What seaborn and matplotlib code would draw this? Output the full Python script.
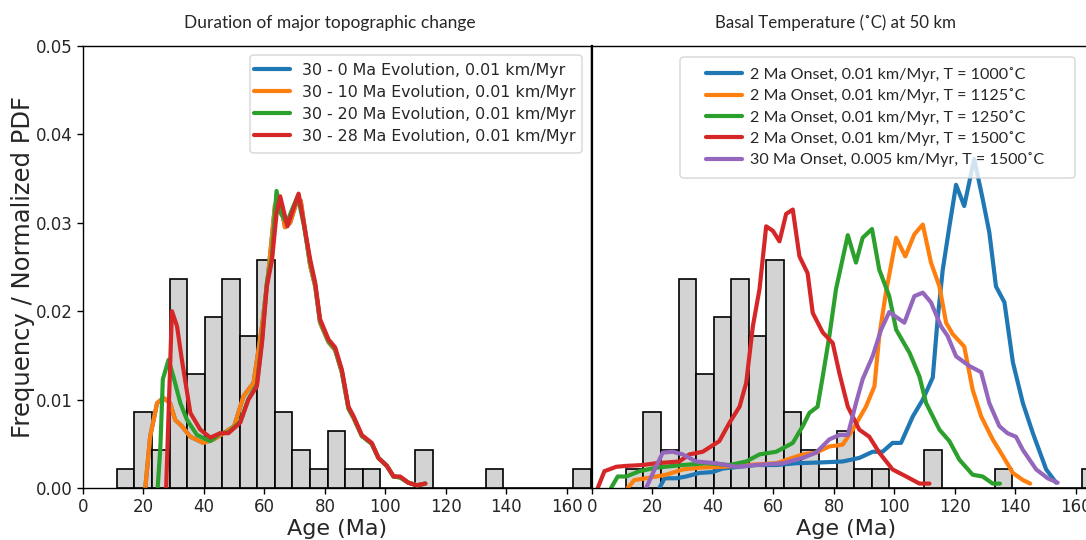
import matplotlib
matplotlib.use("Agg")
import matplotlib.pyplot as plt
from matplotlib.patches import FancyBboxPatch
import seaborn as sns
import numpy as np
import pandas as pd

sns.set_style("ticks")
plt.rcParams['font.family'] = ['DejaVu Sans']

# ---------------- data ----------------
hist_counts = [1, 4, 2, 11, 6, 9, 11, 8, 12, 4, 2, 1, 3, 1, 1, 0, 0, 2, 0, 0, 0, 1, 0, 0, 0, 0, 1]
hist_range = (11.2, 168.0)

left_labels = ["30 - 0 Ma Evolution, 0.01 km/Myr",
               "30 - 10 Ma Evolution, 0.01 km/Myr",
               "30 - 20 Ma Evolution, 0.01 km/Myr",
               "30 - 28 Ma Evolution, 0.01 km/Myr"]

l_orange_x = [20.6, 22.2, 24.5, 26.6, 28.8, 30.5, 32.7, 35.5, 39.8, 43.2, 46.5, 50.0, 53.1, 56.4, 59.2,
              61.4, 63.5, 65.0, 66.8, 68.5, 70.5, 72.0, 73.5, 75.1, 76.8, 78.4, 81.2, 83.4, 85.6, 87.8,
              89.5, 92.2, 95.5, 97.7, 100.5, 102.7, 104.9, 107.6, 110.4, 113.2]
l_orange_y = [0, .0058, .0096, .0102, .0096, .0077, .0070, .0058, .0051, .0055, .0062, .0070, .0104, .0119, .0183,
              .0247, .0320, .0328, .0295, .0300, .0322, .0325, .0290, .0252, .0228, .0187, .0165, .0156, .0131, .0090,
              .0079, .0059, .0050, .0034, .0025, .0013, .0012, .0006, .0003, .0005]
l_blue_x = list(l_orange_x)
l_blue_y = list(l_orange_y)
l_green_x = [24.7, 25.6, 26.4, 28.3, 29.9, 32.2, 34.4, 37.7, 42.1, 45.4, 48.1, 52.0, 54.7, 57.5, 59.2,
             60.8, 62.5, 64.0, 65.5, 67.4, 69.5, 71.0, 73.0, 75.1, 76.8, 78.4, 81.2, 83.4, 85.6, 87.8,
             89.5, 92.2, 95.5, 97.7, 100.5, 102.7, 104.9, 107.6, 110.4, 113.2]
l_green_y = [0, .0047, .0123, .0145, .0126, .0096, .0077, .0060, .0053, .0062, .0063, .0075, .0101, .0117, .0168,
             .0232, .0262, .0336, .0310, .0300, .0318, .0330, .0298, .0256, .0230, .0189, .0166, .0157, .0132, .0090,
             .0080, .0059, .0050, .0034, .0025, .0013, .0012, .0006, .0003, .0005]
l_red_x = [27.5, 29.4, 31.1, 32.7, 35.5, 38.8, 42.1, 45.4, 48.1, 52.0, 54.7, 57.5, 59.2, 60.8, 62.5,
           64.0, 65.2, 67.6, 69.5, 71.3, 73.0, 75.1, 76.8, 78.4, 81.2, 83.4, 85.6, 87.8, 89.5, 92.2,
           95.5, 97.7, 100.5, 102.7, 104.9, 107.6, 110.4, 113.2]
l_red_y = [0, .0200, .0183, .0145, .0085, .0066, .0057, .0062, .0062, .0074, .0100, .0115, .0164, .0228, .0258,
           .0310, .0330, .0296, .0315, .0333, .0300, .0259, .0232, .0191, .0168, .0159, .0134, .0092, .0081, .0060,
           .0051, .0034, .0025, .0013, .0013, .0006, .0003, .0005]

right_labels = ["2 Ma Onset, 0.01 km/Myr, T = 1000˚C",
                "2 Ma Onset, 0.01 km/Myr, T = 1125˚C",
                "2 Ma Onset, 0.01 km/Myr, T = 1250˚C",
                "2 Ma Onset, 0.01 km/Myr, T = 1500˚C",
                "30 Ma Onset, 0.005 km/Myr, T = 1500˚C"]

r_blue_x = [22.3, 24.0, 27.8, 31.1, 35.5, 39.9, 43.2, 48.8, 54.3, 60.9, 67.5, 76.3, 82.9, 88.4, 92.8,
            96.1, 99.4, 102.2, 106.1, 109.4, 112.7, 114.3, 116.0, 118.2, 120.4, 123.1, 126.4, 129.2, 131.4, 133.6,
            136.4, 139.2, 142.5, 145.8, 150.2, 153.5]
r_blue_y = [0, .0011, .0011, .0013, .0017, .0018, .0022, .0024, .0026, .0026, .0028, .0029, .0030, .0034, .0041,
            .0041, .0051, .0051, .0081, .0100, .0125, .0191, .0247, .0296, .0343, .0319, .0372, .0327, .0289, .0228,
            .0210, .0142, .0096, .0062, .0021, .0006]
r_orange_x = [11.8, 14.0, 17.9, 24.5, 30.0, 35.5, 43.2, 51.0, 60.9, 69.7, 74.1, 78.5, 82.9, 86.2, 90.6,
              93.4, 95.0, 97.2, 100.6, 103.6, 106.6, 109.4, 112.1, 114.9, 117.1, 119.3, 123.1, 125.9, 128.7, 132.5,
              135.9, 139.2, 142.5, 144.9]
r_orange_y = [0, .0009, .0011, .0015, .0021, .0023, .0024, .0026, .0028, .0038, .0040, .0047, .0049, .0066, .0092,
              .0115, .0172, .0221, .0283, .0262, .0287, .0298, .0255, .0228, .0187, .0174, .0160, .0111, .0081, .0055,
              .0036, .0017, .0009, .0005]
r_green_x = [6.3, 8.5, 11.3, 15.7, 21.2, 30.0, 37.7, 45.5, 51.0, 55.4, 60.9, 66.4, 69.7, 71.9, 74.6,
             76.3, 78.5, 80.7, 84.6, 87.3, 89.5, 92.6, 95.0, 98.3, 100.6, 105.0, 108.3, 110.5, 114.9, 118.2,
             121.5, 125.9, 129.2, 132.5, 134.9]
r_green_y = [0, .0013, .0013, .0019, .0023, .0026, .0028, .0026, .0030, .0038, .0041, .0051, .0070, .0085, .0092,
             .0126, .0172, .0225, .0286, .0255, .0283, .0293, .0247, .0217, .0179, .0153, .0126, .0096, .0066, .0053,
             .0032, .0015, .0013, .0005, .0005]
r_red_x = [1.9, 4.1, 8.0, 11.3, 16.8, 21.2, 28.9, 32.2, 36.6, 42.1, 45.5, 48.8, 51.0, 53.2, 55.4,
           57.6, 59.8, 62.0, 64.2, 66.4, 68.6, 71.3, 73.0, 76.3, 79.6, 81.8, 84.6, 88.4, 91.7, 95.0,
           99.4, 103.9, 108.3, 111.6]
r_red_y = [0, .0019, .0024, .0025, .0026, .0028, .0030, .0038, .0041, .0053, .0074, .0092, .0119, .0183, .0225,
           .0296, .0291, .0279, .0310, .0315, .0262, .0243, .0198, .0176, .0164, .0130, .0092, .0066, .0058, .0040,
           .0021, .0013, .0005, .0005]
r_purple_x = [17.9, 20.7, 23.4, 26.7, 30.0, 34.4, 41.1, 47.7, 54.3, 63.1, 69.7, 74.1, 78.5, 81.8, 84.6,
              87.3, 89.5, 92.8, 95.6, 98.3, 103.3, 106.6, 109.4, 112.1, 115.4, 117.6, 120.4, 124.8, 128.7, 131.4,
              134.7, 137.4, 140.2, 142.5, 146.9, 150.7, 154.0]
r_purple_y = [0, .0021, .0040, .0041, .0038, .0030, .0028, .0024, .0026, .0028, .0034, .0040, .0055, .0060, .0060,
              .0096, .0123, .0149, .0179, .0199, .0187, .0217, .0221, .0210, .0183, .0172, .0149, .0138, .0131, .0096,
              .0070, .0062, .0058, .0043, .0021, .0011, .0006]

x_ticks = [0, 20, 40, 60, 80, 100, 120, 140, 160]
y_ticks = [0.00, 0.01, 0.02, 0.03, 0.04, 0.05]

# ---------------- figure ----------------
W, H = 1086, 540
fig = plt.figure(figsize=(W / 100, H / 100), dpi=100)
ax_l = fig.add_axes([83 / W, 52 / H, 508 / W, 442 / H])
ax_r = fig.add_axes([592 / W, 52 / H, 508 / W, 442 / H])

tab = sns.color_palette("tab10")
cols = [tab[0], tab[1], tab[2], tab[3], tab[4]]

edges = np.linspace(hist_range[0], hist_range[1], len(hist_counts) + 1)
centers = (edges[:-1] + edges[1:]) / 2
hist_df = pd.DataFrame({"age": centers, "n": hist_counts})

for ax in (ax_l, ax_r):
    sns.histplot(data=hist_df, x="age", weights="n", bins=len(hist_counts), binrange=hist_range,
                 stat="density", color="lightgray", edgecolor="black", linewidth=1.2, alpha=1.0, ax=ax)

left_series = [(l_blue_x, l_blue_y), (l_orange_x, l_orange_y), (l_green_x, l_green_y), (l_red_x, l_red_y)]
for (xs, ys), lab, c in zip(left_series, left_labels, cols):
    sns.lineplot(x=xs, y=ys, ax=ax_l, color=c, lw=3, label=lab, estimator=None)

right_series = [(r_blue_x, r_blue_y), (r_orange_x, r_orange_y), (r_green_x, r_green_y),
                (r_red_x, r_red_y), (r_purple_x, r_purple_y)]
for (xs, ys), lab, c in zip(right_series, right_labels, cols):
    sns.lineplot(x=xs, y=ys, ax=ax_r, color=c, lw=3, label=lab, estimator=None)

for ax in (ax_l, ax_r):
    ax.set_xlim(0, 168)
    ax.set_ylim(0, 0.05)
    ax.set_xticks(x_ticks)
    ax.set_yticks(y_ticks)
    ax.tick_params(axis="both", labelsize=12, length=4, width=1, color="black")
    ax.set_xlabel("Age (Ma)", fontsize=16, labelpad=2)
    for s in ax.spines.values():
        s.set_color("black")
        s.set_linewidth(1.0)

ax_l.set_yticklabels([f"{v:.2f}" for v in y_ticks])
ax_l.set_ylabel("Frequency / Normalized PDF", fontsize=17.5, labelpad=0.5)
ax_r.set_ylabel("")
ax_r.tick_params(axis="y", left=False, labelleft=False)
ax_r.spines["left"].set_linewidth(1.6)

ax_l.set_title("Duration of major topographic change", fontsize=12.5, family="Lato", pad=13, x=0.485)
ax_r.set_title("Basal Temperature (˚C) at 50 km", fontsize=12.2, family="Lato", pad=13, x=0.48)

# left legend: frame box drawn separately
frame_l = FancyBboxPatch(((250 - 83) / 508, (488 - 153) / 442), (582 - 250) / 508, (153 - 55) / 442,
                         boxstyle="round,pad=0,rounding_size=0.008", transform=ax_l.transAxes,
                         facecolor="white", edgecolor="#cccccc", linewidth=1.0, alpha=0.8, zorder=4.5)
ax_l.add_patch(frame_l)
leg_l = ax_l.legend(loc="upper left", bbox_to_anchor=((254 - 83) / 508, (488 - 63) / 442), borderaxespad=0,
                    borderpad=0, fontsize=11.4, handlelength=2.3, handletextpad=0.7,
                    labelspacing=0.44, frameon=False)

# right legend: frame box drawn separately to match wide side padding
frame_r = FancyBboxPatch(((680 - 592) / 508, (488 - 178) / 442), (1075 - 680) / 508, (178 - 57) / 442,
                         boxstyle="round,pad=0,rounding_size=0.008", transform=ax_r.transAxes,
                         facecolor="white", edgecolor="#cccccc", linewidth=1.0, alpha=0.8, zorder=4.5)
ax_r.add_patch(frame_r)
leg_r = ax_r.legend(loc="upper left", bbox_to_anchor=((706 - 592) / 508, (488 - 67) / 442), borderaxespad=0,
                    borderpad=0, prop={"family": "Lato", "size": 11.6}, handlelength=2.22,
                    handletextpad=0.5, labelspacing=0.4, frameon=False)
for lg in (leg_l, leg_r):
    for h in lg.get_lines():
        h.set_linewidth(3)

fig.savefig("out.png", dpi=100)
